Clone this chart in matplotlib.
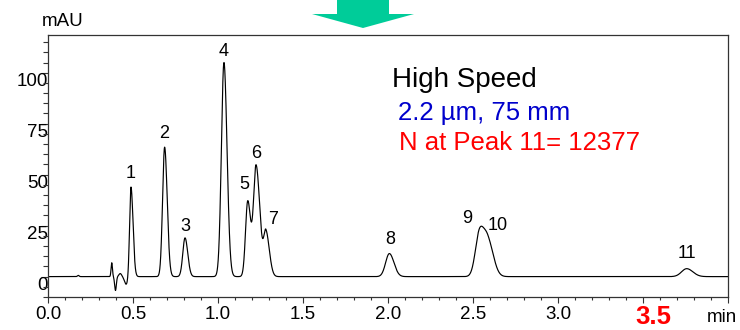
import numpy as np
import matplotlib
matplotlib.use("Agg")
import matplotlib.pyplot as plt
from matplotlib.patches import Polygon
from matplotlib.ticker import MultipleLocator, FixedLocator

plt.rcParams['font.family'] = ['Liberation Sans', 'DejaVu Sans']

# ---- data ----
peak_labels = ['1', '2', '3', '4', '5', '6', '7', '8', '9', '10', '11']
peak_times = [0.488, 0.686, 0.806, 1.035, 1.175, 1.224, 1.282, 2.008, 2.538, 2.588, 3.757]
peak_heights = [44.0, 63.5, 19.0, 105.0, 37.0, 54.3, 21.5, 11.3, 21.0, 17.0, 3.9]
peak_sigma_left = [0.008, 0.012, 0.013, 0.015, 0.013, 0.015, 0.013, 0.022, 0.024, 0.026, 0.030]
peak_sigma_right = [0.012, 0.015, 0.016, 0.018, 0.017, 0.022, 0.020, 0.027, 0.026, 0.032, 0.036]

label_times = [0.488, 0.686, 0.806, 1.031, 1.155, 1.222, 1.322, 2.012, 2.463, 2.643, 3.761]
label_levels = [50.5, 70.1, 24.6, 110.4, 45.1, 60.6, 28.0, 18.1, 28.3, 25.0, 11.3]

# injection disturbance near the void time
artifact_times = [0.178, 0.375, 0.397, 0.425, 0.460]
artifact_heights = [0.6, 6.8, -6.8, 1.5, -3.8]
artifact_sigmas = [0.005, 0.004, 0.005, 0.008, 0.010]

x_ticks = [0.0, 0.5, 1.0, 1.5, 2.0, 2.5, 3.0, 3.5, 4.0]
x_tick_labels = ['0.0', '0.5', '1.0', '1.5', '2.0', '2.5', '3.0', '', '']
y_ticks = [0, 25, 50, 75, 100]
y_tick_labels = ['0', '25', '50', '75', '100']

# ---- build trace from peak table ----
t = np.linspace(0.0, 4.0, 8001)
signal = np.zeros_like(t)
for tr, h, sl, sr in zip(peak_times, peak_heights, peak_sigma_left, peak_sigma_right):
    s = np.where(t < tr, sl, sr)
    signal += h * np.exp(-0.5 * ((t - tr) / s) ** 2)
for tr, h, s in zip(artifact_times, artifact_heights, artifact_sigmas):
    signal += h * np.exp(-0.5 * ((t - tr) / s) ** 2)

W, H = 740, 330
fig = plt.figure(figsize=(W / 100, H / 100), dpi=100)
ax = fig.add_axes([48 / W, 1 - 297 / H, (728 - 48) / W, (297 - 35) / H])

ax.plot(t, signal, color='black', lw=0.85)
ax.set_xlim(0, 4.0)
ax.set_ylim(-10, 118.5)

for lab, lt, ll in zip(peak_labels, label_times, label_levels):
    ax.text(lt, ll, lab, ha='center', va='center', fontsize=13, color='black')

ax.xaxis.set_major_locator(FixedLocator(x_ticks))
ax.set_xticklabels(x_tick_labels, fontsize=13.5)
ax.xaxis.set_minor_locator(MultipleLocator(0.1))
ax.yaxis.set_major_locator(FixedLocator(y_ticks))
ax.set_yticklabels(y_tick_labels, fontsize=13.5, va='top')
ax.yaxis.set_minor_locator(MultipleLocator(5))

ax.tick_params(axis='x', which='major', direction='out', length=4.3, width=0.8, pad=2, colors='#333333', labelcolor='black')
ax.tick_params(axis='x', which='minor', direction='out', length=2.4, width=0.8, colors='#333333')
ax.tick_params(axis='y', which='major', direction='out', length=5, width=0.8, pad=-5, colors='#333333', labelcolor='black')
ax.tick_params(axis='y', which='minor', direction='out', length=3.6, width=0.8, colors='#333333')
for sp in ax.spines.values():
    sp.set_color('#333333')
    sp.set_linewidth(0.9)

# axis unit labels
fig.text(42 / W, 1 - 21 / H, 'mAU', ha='left', va='center', fontsize=13.5)
fig.text(707 / W, 1 - 318 / H, 'min', ha='left', va='center', fontsize=13.5)
fig.text(653 / W, 1 - 329.5 / H, '3.5', ha='center', va='bottom', fontsize=18.5,
         fontweight='bold', color='#FF0000')

# annotation block
fig.text(392 / W, 1 - 80 / H, 'High Speed', ha='left', va='center', fontsize=20, color='black')
fig.text(398 / W, 1 - 113 / H, '2.2 µm, 75 mm', ha='left', va='center', fontsize=18.5, color='#0000CC')
fig.text(399 / W, 1 - 143 / H, 'N at Peak 11= 12377', ha='left', va='center', fontsize=18.5, color='#FF0000')

# green arrow at the top
arrow_px = [(337, 0), (389, 0), (389, 14), (414, 14), (363, 28), (312, 14), (337, 14)]
arrow = Polygon([(px / W, 1 - py / H) for px, py in arrow_px], closed=True,
                transform=fig.transFigure, facecolor='#00CC99', edgecolor='none')
fig.patches.append(arrow)

fig.savefig('out.png', dpi=100)
